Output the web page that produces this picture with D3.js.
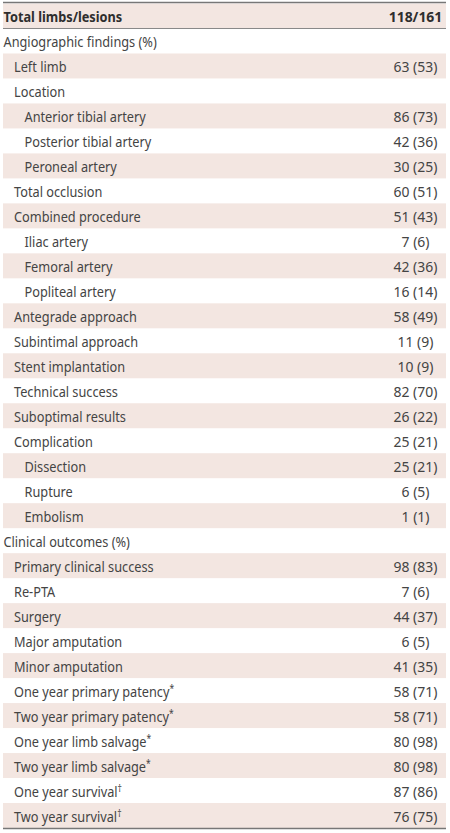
<!DOCTYPE html>
<html>
<head>
<meta charset="utf-8">
<script src="https://cdn.jsdelivr.net/npm/d3@7"></script>
<style>
  html, body { margin: 0; padding: 0; background: #fff; }
  svg { display: block; }
</style>
</head>
<body>
<svg id="chart" width="450" height="833"></svg>
<script>
// ---- data ----
const headerLabel = "Total limbs/lesions";
const headerValue = "118/161";
const labels = [
  "Angiographic findings (%)", "Left limb", "Location", "Anterior tibial artery",
  "Posterior tibial artery", "Peroneal artery", "Total occlusion", "Combined procedure",
  "Iliac artery", "Femoral artery", "Popliteal artery", "Antegrade approach",
  "Subintimal approach", "Stent implantation", "Technical success", "Suboptimal results",
  "Complication", "Dissection", "Rupture", "Embolism",
  "Clinical outcomes (%)", "Primary clinical success", "Re-PTA", "Surgery",
  "Major amputation", "Minor amputation", "One year primary patency", "Two year primary patency",
  "One year limb salvage", "Two year limb salvage", "One year survival", "Two year survival"
];
const levels = [0,1,1,2,2,2,1,1,2,2,2,1,1,1,1,1,1,2,2,2,0,1,1,1,1,1,1,1,1,1,1,1];
const marks = ["","","","","","","","","","","","","","","","","","","","","","","","","","","*","*","*","*","\u2020","\u2020"];
const counts = [null,63,null,86,42,30,60,51,7,42,16,58,11,10,82,26,25,25,6,1,null,98,7,44,6,41,58,58,80,80,87,76];
const percents = [null,53,null,73,36,25,51,43,6,36,14,49,9,9,70,22,21,21,5,1,null,83,6,37,5,35,71,71,98,98,86,75];

// ---- layout ----
const left = 3, right = 446;
const svg = d3.select("#chart");
const rowIds = d3.range(labels.length + 1); // 0 = header
const y = d3.scaleBand().domain(rowIds).range([3.5, 828]).paddingInner(0);
const xIndent = d3.scaleLinear().domain([0, 2]).range([3.5, 24.5]);
const valueCenter = 415.5;
const font = "'Noto Sans', sans-serif";
const fs = 15;
const sxLabel = 0.85, sxValue = 0.93;
const fill = "#444";
const band = "#f3e6e1";
const base = 6;

// shaded bands
svg.append("g").selectAll("rect")
  .data(rowIds.filter(i => i === 0 || (i - 1) % 2 === 1))
  .join("rect")
  .attr("x", left).attr("width", right - left)
  .attr("y", d => y(d)).attr("height", y.bandwidth())
  .attr("fill", band);

// header
const hy = y(0) + y.bandwidth() / 2 + base;
const hg = svg.append("g").attr("font-family", font).attr("font-size", fs).attr("fill", "#2e2e2e").attr("font-weight", 700);
hg.append("text").attr("transform", `translate(${xIndent(0)},${hy}) scale(${sxLabel},1)`).text(headerLabel);
hg.append("text").attr("transform", `translate(${valueCenter},${hy}) scale(${sxValue},1)`).attr("text-anchor", "middle").text(headerValue);

// body rows
const rows = svg.append("g").attr("font-family", font).attr("font-size", fs).attr("fill", fill)
  .selectAll("g").data(labels.map((l, i) => ({ l, i, lev: levels[i], mk: marks[i], c: counts[i], p: percents[i] })))
  .join("g").attr("transform", d => `translate(0,${y(d.i + 1) + y.bandwidth() / 2 + base})`);

const lt = rows.append("text").attr("transform", d => `translate(${xIndent(d.lev)},0) scale(${sxLabel},1)`);
lt.append("tspan").text(d => d.l);
lt.filter(d => d.mk).append("tspan").attr("dy", -5).attr("font-size", 10).text(d => d.mk);

rows.filter(d => d.c !== null).append("text")
  .attr("transform", `translate(${valueCenter},0) scale(${sxValue},1)`).attr("text-anchor", "middle")
  .text(d => `${d.c} (${d.p})`);

// rules
svg.append("line").attr("x1", left).attr("x2", right).attr("y1", 2.5).attr("y2", 2.5).attr("stroke", "#777").attr("stroke-width", 1.5);
svg.append("line").attr("x1", left).attr("x2", right).attr("y1", y(1)).attr("y2", y(1)).attr("stroke", "#888").attr("stroke-width", 1);
svg.append("line").attr("x1", left).attr("x2", right).attr("y1", 828.5).attr("y2", 828.5).attr("stroke", "#777").attr("stroke-width", 1.5);
</script>
</body>
</html>
